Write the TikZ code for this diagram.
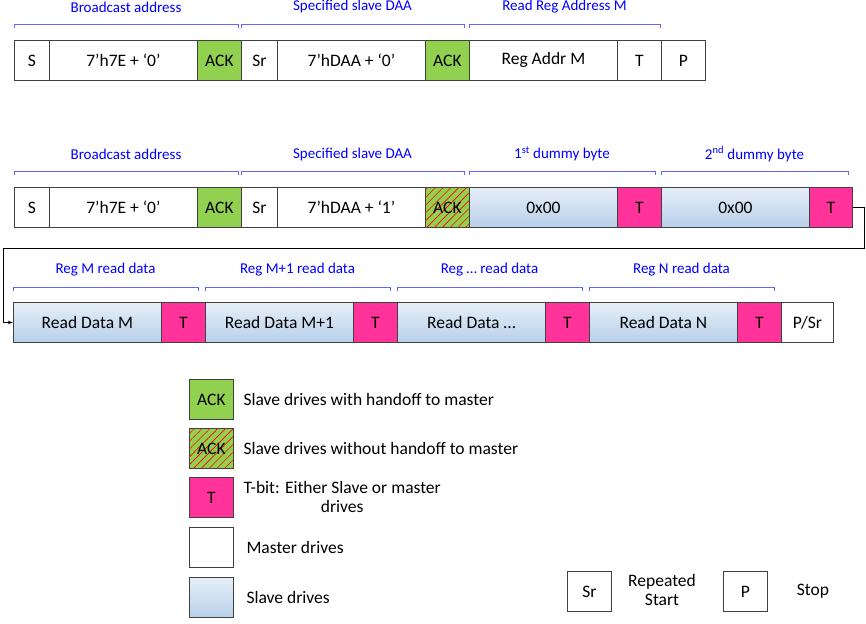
\documentclass[tikz,border=0pt]{standalone}
\usepackage{fontspec}
\setmainfont{Carlito}
\usetikzlibrary{patterns.meta}
\definecolor{ackg}{RGB}{146,208,80}
\definecolor{tpink}{RGB}{255,51,153}
\definecolor{sblue}{RGB}{184,208,234}
\definecolor{brk}{RGB}{100,100,255}
\begin{document}
\begin{tikzpicture}[x=1pt,y=-1pt,font=\fontsize{17.5}{19}\selectfont,
 cell/.style={draw=black!75,line width=0.8pt,inner sep=0,anchor=north west,minimum height=40},
 w/.style={cell,fill=white},
 ack/.style={cell,fill=ackg},
 hatch/.style={ack,postaction={pattern={Lines[angle=45,distance=5.5pt,line width=0.6pt]},pattern color=red}},
 tb/.style={cell,fill=tpink},
 sl/.style={cell,top color=sblue!35,bottom color=sblue},
 brace/.style={draw=brk,line width=0.9pt},
 lbl/.style={text=blue,font=\fontsize{15}{17}\selectfont}]
\useasboundingbox (0,0) rectangle (866,623);
\newcommand{\brk}[5]{\draw[brace] (#2,#3+4) coordinate (#1a) -- (#2,#3) -- (#4,#3) -- (#4,#3+4) coordinate (#1b);
 \node[lbl] (#1l) at ({(#2+#4)/2},#3-17) {#5};}
% row 1
\node[w,minimum width=35] (a1) at (14,40) {S};
\node[w,minimum width=148] (a2) at (49,40) {7'h7E + ‘0’};
\node[ack,minimum width=44] (a3) at (197,40) {ACK};
\node[w,minimum width=36] (a4) at (241,40) {Sr};
\node[w,minimum width=148] (a5) at (277,40) {7'hDAA + ‘0’};
\node[ack,minimum width=44] (a6) at (425,40) {ACK};
\node[w,minimum width=148] (a7) at (469,40) {Reg Addr M};
\node[w,minimum width=44] (a8) at (617,40) {T};
\node[w,minimum width=44] (a9) at (661,40) {P};
\brk{b1}{14}{24}{238}{Broadcast address}
\brk{b2}{241}{24}{464}{Specified slave DAA}
\brk{b3}{469}{24}{660}{Read Reg Address M}
% row 2
\node[w,minimum width=35] (c1) at (14,187) {S};
\node[w,minimum width=148] (c2) at (49,187) {7'h7E + ‘0’};
\node[ack,minimum width=44] (c3) at (197,187) {ACK};
\node[w,minimum width=36] (c4) at (241,187) {Sr};
\node[w,minimum width=148] (c5) at (277,187) {7'hDAA + ‘1’};
\node[hatch,minimum width=44] (c6) at (425,187) {ACK};
\node[sl,minimum width=148] (c7) at (469,187) {0x00};
\node[tb,minimum width=44] (c8) at (617,187) {T};
\node[sl,minimum width=148] (c9) at (661,187) {0x00};
\node[tb,minimum width=43] (c10) at (809,187) {T};
\brk{d1}{14}{171}{238}{Broadcast address}
\brk{d2}{241}{171}{464}{Specified slave DAA}
\brk{d3}{469}{171}{655}{1\textsuperscript{st} dummy byte}
\brk{d4}{661}{171}{848}{2\textsuperscript{nd} dummy byte}
% row 3
\node[sl,minimum width=148] (e1) at (13,302) {Read Data M};
\node[tb,minimum width=44] (e2) at (161,302) {T};
\node[sl,minimum width=148] (e3) at (205,302) {Read Data M+1};
\node[tb,minimum width=44] (e4) at (353,302) {T};
\node[sl,minimum width=148] (e5) at (397,302) {Read Data …};
\node[tb,minimum width=44] (e6) at (545,302) {T};
\node[sl,minimum width=148] (e7) at (589,302) {Read Data N};
\node[tb,minimum width=44] (e8) at (737,302) {T};
\node[w,minimum width=52] (e9) at (781,302) {P/Sr};
\brk{f1}{13}{287}{198}{Reg M read data}
\brk{f2}{205}{287}{390}{Reg M+1 read data}
\brk{f3}{397}{287}{582}{Reg … read data}
\brk{f4}{589}{287}{774}{Reg N read data}
% connector
\coordinate (k1) at (864,248);
\coordinate (k2) at (3,248);
\draw[-latex,line width=0.6pt] (c10.east) -| (k1) -- (k2) |- (e1.west);
% legend
\node[ack,minimum width=44] (l1) at (189,379) {ACK};
\node[hatch,minimum width=44] (l2) at (189,428) {ACK};
\node[tb,minimum width=44] (l3) at (189,477) {T};
\node[w,minimum width=44] (l4) at (189,527) {};
\node[sl,minimum width=44] (l5) at (189,577) {};
\node[anchor=west] (t1) at (240,399) {Slave drives with handoff to master};
\node[anchor=west] (t2) at (240,448) {Slave drives without handoff to master};
\node[anchor=west,align=center] (t3) at (240,497) {T-bit: Either Slave or master\\drives};
\node[anchor=west] (t4) at (243,547) {Master drives};
\node[anchor=west] (t5) at (243,597) {Slave drives};
\node[w,minimum width=44] (s1) at (567,571) {Sr};
\node[align=center] (s2) at (662,590) {Repeated\\Start};
\node[w,minimum width=44] (s3) at (723,571) {P};
\node (s4) at (813,591) {Stop};
\end{tikzpicture}
\end{document}
